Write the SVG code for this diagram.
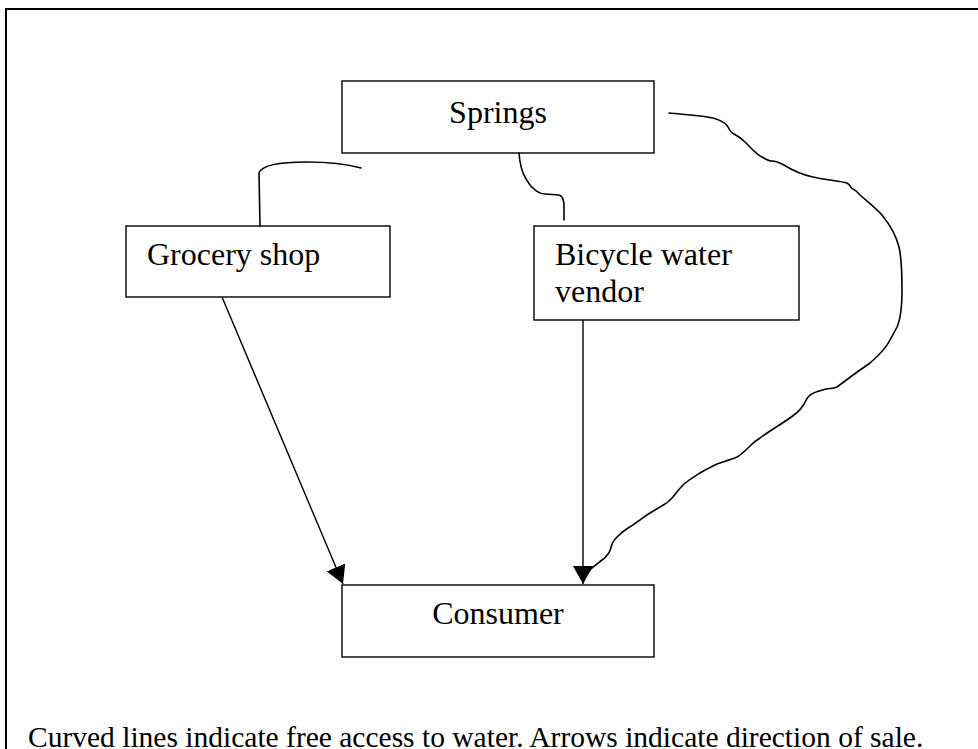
<svg xmlns="http://www.w3.org/2000/svg" width="978" height="749" viewBox="0 0 978 749">
<style>
.box{fill:#fff;stroke:#000;stroke-width:1.4}
.t{font-family:"Liberation Serif","Times New Roman",serif;font-size:32px;fill:#000}
.c{fill:none;stroke:#000;stroke-width:1.6;stroke-linecap:round;stroke-linejoin:round}
.a{fill:none;stroke:#000;stroke-width:1.4}
</style>
<defs>
<marker id="ah" markerUnits="userSpaceOnUse" viewBox="0 0 18 20" markerWidth="18" markerHeight="20" refX="18" refY="10" orient="auto">
<path d="M0,0 L18,10 L0,20 z" fill="#000"/>
</marker>
</defs>
<rect x="0" y="0" width="978" height="749" fill="#fff"/>
<rect x="6" y="9" width="1000" height="800" fill="none" stroke="#000" stroke-width="2"/>
<g id="springs">
<rect class="box" x="342" y="81" width="312" height="72"/>
<text class="t" x="498" y="123" text-anchor="middle">Springs</text>
</g>
<g id="grocery">
<rect class="box" x="126" y="226" width="264" height="71"/>
<text class="t" x="147" y="265">Grocery shop</text>
</g>
<g id="bicycle">
<rect class="box" x="534" y="226" width="265" height="94"/>
<text class="t" x="555" y="265">Bicycle water</text>
<text class="t" x="555" y="302">vendor</text>
</g>
<g id="consumer">
<rect class="box" x="342" y="585" width="312" height="72"/>
<text class="t" x="498" y="624" text-anchor="middle">Consumer</text>
</g>
<g id="connectors">
<path class="c" d="M260,226 L259,173 C262,164 285,162 307,162 C330,162 350,165 361,168"/>
<path class="c" d="M519,153 C520,165 522,172 525,177 C528,182 530,186 533,188 C537,192 540,194 545,194 C552,195 558,194 561,196 C564,199 564,203 564,206 L564,220"/>
<path class="c" d="M669,113 C690,115 705,116 713,118 C720,120 726,123 728,127 C730,131 731,133 734,134 C738,136 741,138 745,142 C752,149 757,155 762,157 C767,160 770,161 772,161 C776,161 778,162 782,164 C792,170 802,175 813,177 C825,180 840,181 847,183 C851,185 851,189 853,189 C856,190 857,192 860,195 C868,202 875,207 882,215 C890,225 896,235 899,247 C902,260 902,275 902,290 C902,305 901,318 897,327 C894,333 892,336 890,340 C886,348 877,357 870,363 C866,366 863,368 860,370 C853,375 845,381 837,387 C833,389 830,388 826,389 C818,391 812,393 809,396 C806,399 805,403 802,407 C799,412 793,416 787,420 C778,426 768,432 760,438 C755,441 753,443 750,446 C745,451 741,455 737,457 C730,460 722,462 717,464 C711,467 705,470 700,473 C692,478 687,481 683,485 C678,490 675,495 672,498 C669,501 667,503 665,504 C660,507 655,510 650,513 C645,516 643,518 640,520 C635,523 632,526 628,528 C623,531 620,534 617,537 C614,540 613,542 612,544 C611,548 610,552 608,554 C606,557 604,559 602,560 C598,563 595,566 593,567 C590,570 588,572 585,575"/>
<path class="a" d="M222,297 L343,584" marker-end="url(#ah)"/>
<path class="a" d="M583,320 L583,584" marker-end="url(#ah)"/>
</g>
<text class="t" x="28" y="747" style="font-size:29.5px">Curved lines indicate free access to water. Arrows indicate direction of sale.</text>
</svg>
